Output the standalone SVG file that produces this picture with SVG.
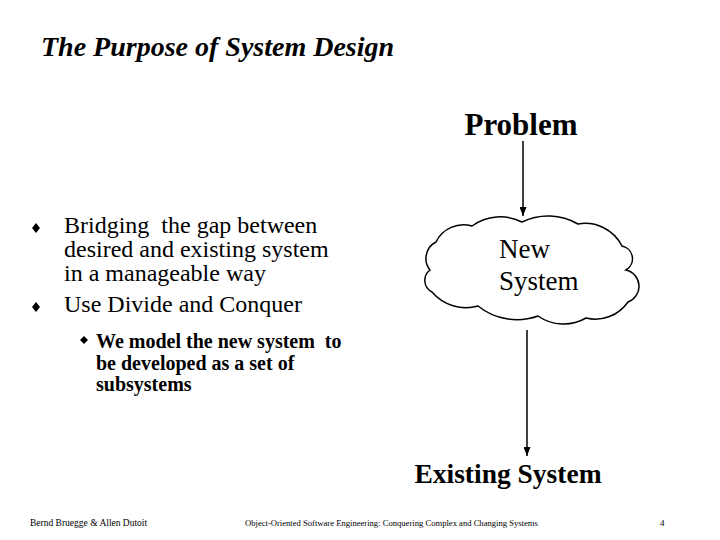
<svg xmlns="http://www.w3.org/2000/svg" width="720" height="540" viewBox="0 0 720 540">
<defs>
<style>
text{fill:#000}
.conn{stroke:#000;stroke-width:1.5;fill:none}
</style>
<marker id="ah" markerWidth="9" markerHeight="7" refX="9" refY="3.5" orient="auto" markerUnits="userSpaceOnUse" viewBox="0 0 9 7">
<path d="M0,0 L9,3.5 L0,7 Z" fill="#000"/>
</marker>
</defs>
<rect width="720" height="540" fill="#fff"/>
<g font-family="'Liberation Serif', 'Times New Roman', serif">
<text x="41" y="56" font-size="28" font-weight="bold" font-style="italic">The Purpose of System Design</text>

<g id="bullets">
<polygon points="36,223 40,228 36,233 32,228" fill="#000"/>
<text x="64" y="233" font-size="24" xml:space="preserve">Bridging  the gap between</text>
<text x="64" y="257" font-size="24">desired and existing system</text>
<text x="64" y="281" font-size="24">in a manageable way</text>
<polygon points="36,302 40,307 36,312 32,307" fill="#000"/>
<text x="64" y="312" font-size="24">Use Divide and Conquer</text>
<polygon points="84,336 88,340 84,344 80,340" fill="#000"/>
<text x="96" y="348" font-size="20" font-weight="bold" xml:space="preserve">We model the new system  to</text>
<text x="96" y="370" font-size="20" font-weight="bold">be developed as a set of</text>
<text x="96" y="391" font-size="20" font-weight="bold">subsystems</text>
</g>

<g id="problem">
<text x="521" y="135" font-size="31" font-weight="bold" text-anchor="middle">Problem</text>
</g>

<g id="newsystem">
<path d="M522,222 A59.5,59.5 0 0 1 578,224 A41.5,41.5 0 0 1 622,246 A13,13 0 0 1 626,270 A16.7,16.7 0 0 1 628,302 A39.6,39.6 0 0 1 586,318 A44.6,44.6 0 0 1 538,316 A62,62 0 0 1 478,306 A44.6,44.6 0 0 1 432,292 A13,13 0 0 1 430,270 A18.5,18.5 0 0 1 436,242 A30.6,30.6 0 0 1 472,226 A48,48 0 0 1 522,222 Z" fill="#fff" stroke="#000" stroke-width="1.5"/>
<text x="499" y="258" font-size="27">New</text>
<text x="499" y="290" font-size="27">System</text>
</g>

<g id="existing">
<text x="508" y="483" font-size="27.5" font-weight="bold" text-anchor="middle">Existing System</text>
</g>

<g id="connectors">
<line class="conn" x1="523" y1="141" x2="523" y2="216" marker-end="url(#ah)"/>
<line class="conn" x1="527" y1="330" x2="527" y2="456" marker-end="url(#ah)"/>
</g>

<g id="footer">
<text x="30" y="526" font-size="9.5">Bernd Bruegge &amp; Allen Dutoit</text>
<text x="245" y="526" font-size="8.6">Object-Oriented Software Engineering: Conquering Complex and Changing Systems</text>
<text x="660" y="526" font-size="9">4</text>
</g>
</g>
</svg>
